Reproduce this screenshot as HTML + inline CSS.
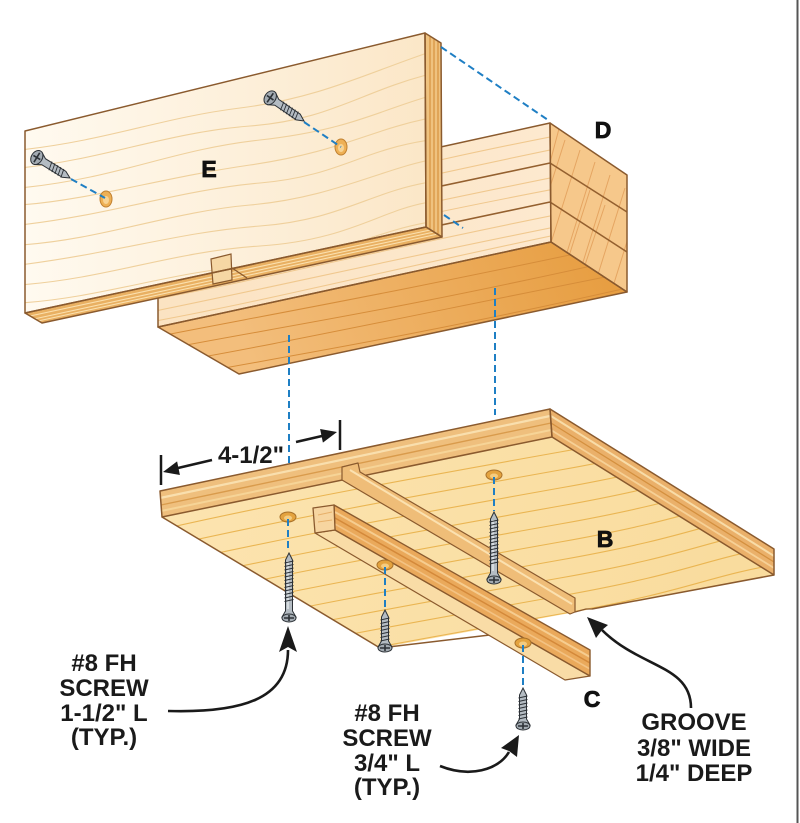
<!DOCTYPE html>
<html><head><meta charset="utf-8"><style>html,body{margin:0;padding:0;background:#fff;}svg{display:block;}</style></head>
<body>
<svg width="800" height="823" viewBox="0 0 800 823" xmlns="http://www.w3.org/2000/svg">
<defs>
<linearGradient id="gE" x1="25" y1="0" x2="440" y2="0" gradientUnits="userSpaceOnUse"><stop offset="0" stop-color="#fffaf0"/><stop offset="1" stop-color="#fbe6c6"/></linearGradient>
<linearGradient id="gDf" x1="150" y1="0" x2="550" y2="0" gradientUnits="userSpaceOnUse"><stop offset="0" stop-color="#fbe3c2"/><stop offset="1" stop-color="#fde9cf"/></linearGradient>
<linearGradient id="gDb" x1="600" y1="260" x2="260" y2="390" gradientUnits="userSpaceOnUse"><stop offset="0" stop-color="#e79e42"/><stop offset="1" stop-color="#f3be7c"/></linearGradient>
<linearGradient id="gB" x1="160" y1="480" x2="700" y2="640" gradientUnits="userSpaceOnUse"><stop offset="0" stop-color="#fce4b0"/><stop offset="1" stop-color="#f9dc9e"/></linearGradient>
<clipPath id="cE"><polygon points="25,131 425,33 426,227 25,313"/></clipPath>
<clipPath id="cDf"><polygon points="158,209 550,123 551,242 158,327"/></clipPath>
<clipPath id="cDe"><polygon points="550,123 627,175 627,292 551,242"/></clipPath>
<clipPath id="cDb"><polygon points="158,327 551,242 627,292 239,374"/></clipPath>
<clipPath id="cB"><polygon points="162,517 552,437 774,575 592,609 380,648"/></clipPath>
</defs>

<!-- right border -->
<rect x="796.5" y="0" width="2" height="823" fill="#555"/>

<!-- ===== D block ===== -->
<polygon points="158,209 550,123 551,242 158,327" fill="url(#gDf)"/>
<g clip-path="url(#cDf)" fill="none" stroke="#f0c88e" stroke-width="1.1">
<path d="M150,222 C260,205 380,170 560,135"/>
<path d="M150,236 C260,215 380,185 560,148"/>
<path d="M150,262 C260,240 380,212 560,176"/>
<path d="M150,272 C260,252 380,222 560,188"/>
<path d="M150,300 C260,280 380,250 560,214"/>
<path d="M150,312 C260,290 380,262 560,226"/>
<path d="M150,322 C260,302 380,272 560,234"/>
</g>
<path d="M158,246 L550,163 M158,285 L550,202" stroke="#94602f" stroke-width="1.6" fill="none"/>
<polygon points="550,123 627,175 627,292 551,242" fill="#f6c88b"/>
<g clip-path="url(#cDe)" stroke="#e5a562" stroke-width="1" fill="none">
<path d="M530,250 L565,140 M545,262 L580,150 M560,275 L595,162 M575,288 L610,175 M590,300 L625,188 M605,312 L640,200 M540,200 L560,125 M555,300 L590,190 M570,310 L605,205"/>
</g>
<path d="M550,163 L627,212 M550,202 L627,252" stroke="#94602f" stroke-width="1.6" fill="none"/>
<polygon points="158,327 551,242 627,292 239,374" fill="url(#gDb)"/>
<g clip-path="url(#cDb)" fill="none" stroke="#d68d3a" stroke-width="1">
<path d="M150,338 C250,318 380,296 640,240"/>
<path d="M150,352 C260,330 390,312 640,255"/>
<path d="M150,366 C250,350 380,322 640,270"/>
<path d="M150,382 C260,360 390,342 640,285"/>
<path d="M150,398 C250,378 380,358 640,300"/>
<path d="M150,414 C260,392 390,374 640,315"/>
</g>
<g fill="none" stroke="#8a5a2e" stroke-width="1.5" stroke-linejoin="round">
<polygon points="158,209 550,123 551,242 158,327"/>
<polygon points="550,123 627,175 627,292 551,242"/>
<polygon points="158,327 551,242 627,292 239,374"/>
</g>

<!-- ===== E panel ===== -->
<polygon points="25,131 425,33 426,227 25,313" fill="url(#gE)"/>
<g clip-path="url(#cE)" fill="none" stroke="#efd09c" stroke-width="1.1">
<path d="M20,150 C110,140 160,118 240,108 S370,72 430,52"/>
<path d="M20,168 C100,160 170,132 250,126 S360,92 430,74"/>
<path d="M20,188 C120,178 170,150 260,140 S380,110 430,96"/>
<path d="M20,205 C90,200 160,178 250,165 S370,130 430,118"/>
<path d="M20,225 C110,215 180,190 260,183 S360,150 430,140"/>
<path d="M20,245 C100,240 170,212 250,205 S380,170 430,160"/>
<path d="M20,265 C120,252 180,232 260,226 S370,192 430,182"/>
<path d="M20,285 C110,278 170,252 260,246 S380,210 430,202"/>
<path d="M20,303 C100,298 170,272 250,266 S370,232 430,222"/>
<path d="M20,322 C110,315 180,292 260,286 S380,252 430,244"/>
</g>
<polygon points="425,33 441,43 442,237 426,227" fill="#efc27f"/>
<path d="M430,37 L430,230 M434,39 L434,232 M438,41 L438,234" stroke="#d5923f" stroke-width="1.2"/>
<polygon points="25,313 426,227 442,237 42,323" fill="#e9b062"/>
<path d="M30,316 L430,230 M34,319 L434,232 M38,321 L438,234" stroke="#fbe0ae" stroke-width="1.1"/>
<!-- notch tab -->
<polygon points="211,259 231,254 232,280 213,284" fill="#f6d7a4" stroke="#8a5a2e" stroke-width="1.2"/>
<path d="M232,268 L247,278" stroke="#8a5a2e" stroke-width="1.2"/>
<g fill="none" stroke="#8a5a2e" stroke-width="1.5" stroke-linejoin="round">
<polygon points="25,131 425,33 426,227 25,313"/>
<polygon points="425,33 441,43 442,237 426,227"/>
<polygon points="25,313 426,227 442,237 42,323"/>
</g>

<!-- E holes -->
<ellipse cx="106" cy="199" rx="6" ry="8" fill="#eeb055" stroke="#c08030"/>
<ellipse cx="106" cy="200" rx="3" ry="4" fill="#f8d393"/>
<ellipse cx="341" cy="147" rx="6" ry="8" fill="#eeb055" stroke="#c08030"/>
<ellipse cx="341" cy="148" rx="3" ry="4" fill="#f8d393"/>

<!-- ===== B board ===== -->
<polygon points="162,517 552,437 774,575 592,609 380,648" fill="url(#gB)"/>
<g clip-path="url(#cB)" fill="none" stroke="#eab552" stroke-width="1.1">
<path d="M150,532 C280,502 420,477 560,452 S700,415 790,400"/>
<path d="M150,550 C280,520 420,495 560,470 S700,433 790,418"/>
<path d="M150,568 C280,538 420,513 560,488 S700,451 790,436"/>
<path d="M150,586 C280,556 420,531 560,506 S700,469 790,454"/>
<path d="M150,604 C280,574 420,549 560,524 S700,487 790,472"/>
<path d="M150,622 C280,592 420,567 560,542 S700,505 790,490"/>
<path d="M150,640 C280,610 420,585 560,560 S700,523 790,508"/>
<path d="M150,658 C280,628 420,603 560,578 S700,541 790,526"/>
<path d="M150,676 C280,646 420,621 560,596 S700,559 790,544"/>
<path d="M150,694 C280,664 420,639 560,614 S700,577 790,562"/>
<path d="M150,712 C280,682 420,657 560,632 S700,595 790,580"/>
</g>
<polygon points="160,491 550,409 552,437 162,517" fill="#efbf7d"/>
<path d="M160,498 L550,416" stroke="#f9dfae" stroke-width="2.2"/>
<path d="M161,505 L551,423" stroke="#d99b4c" stroke-width="1.4"/>
<path d="M161,511 L551,430" stroke="#f6d497" stroke-width="2"/>
<polygon points="550,409 774,549 774,575 552,437" fill="#eab06a"/>
<path d="M551,416 L774,556" stroke="#f8dca8" stroke-width="2"/>
<path d="M551,423 L774,562" stroke="#d4903f" stroke-width="1.3"/>
<path d="M551,430 L774,568" stroke="#f6d096" stroke-width="1.8"/>
<g fill="none" stroke="#8a5a2e" stroke-width="1.5" stroke-linejoin="round">
<polygon points="160,491 550,409 552,437 162,517"/>
<polygon points="550,409 774,549 774,575 552,437"/>
<path d="M162,517 L380,648 M774,575 L592,609"/>
</g>
<!-- groove rail -->
<polygon points="342,467 358,463 360,472 575,598 575,612 570,614 342,480" fill="#efbd78" stroke="#8a5a2e" stroke-width="1.2" stroke-linejoin="round"/>
<path d="M350,470 L572,604" stroke="#fbe1b0" stroke-width="2"/>
<path d="M575,612 L586,609 L592,609" fill="none" stroke="#8a5a2e" stroke-width="1.2"/>
<path d="M380,648 L515,632" stroke="#8a5a2e" stroke-width="1.5"/>
<path d="M357,547 L510,635" stroke="#eab552" stroke-width="1"/>

<!-- B holes -->
<g stroke="#a9722a" stroke-width="1">
<ellipse cx="288" cy="517" rx="8" ry="5" fill="#e4a33f"/>
<ellipse cx="494" cy="475" rx="8" ry="5" fill="#e4a33f"/>
</g>
<ellipse cx="288" cy="518" rx="4" ry="2.5" fill="#f4cc80"/>
<ellipse cx="494" cy="476" rx="4" ry="2.5" fill="#f4cc80"/>

<!-- ===== C cleat ===== -->
<polygon points="315,533 335,530 590,676 565,680" fill="#f9dca6" stroke="#8a5a2e" stroke-width="1.2" stroke-linejoin="round"/>
<polygon points="334,505 590,650 590,676 335,530" fill="#eaa95b"/>
<path d="M335,512 L590,657" stroke="#f6cd90" stroke-width="2"/>
<path d="M335,518 L590,663" stroke="#d4893a" stroke-width="1.5"/>
<path d="M335,524 L590,669" stroke="#f3c283" stroke-width="1.6"/>
<polygon points="334,505 590,650 590,676 335,530" fill="none" stroke="#8a5a2e" stroke-width="1.4" stroke-linejoin="round"/>
<polygon points="313,508 334,505 335,530 315,533" fill="#f7d5a0" stroke="#8a5a2e" stroke-width="1.3" stroke-linejoin="round"/>
<path d="M318,515 L332,512 M318,522 L332,520" stroke="#e7b06a" stroke-width="1"/>
<g stroke="#a9722a" stroke-width="1">
<ellipse cx="385" cy="565" rx="8" ry="5" fill="#e4a33f"/>
<ellipse cx="523" cy="643" rx="8" ry="5" fill="#e4a33f"/>
</g>
<ellipse cx="385" cy="566" rx="4" ry="2.5" fill="#f4cc80"/>
<ellipse cx="523" cy="644" rx="4" ry="2.5" fill="#f4cc80"/>

<!-- ===== dashed lines ===== -->
<g stroke="#1f7fc4" stroke-width="2" stroke-dasharray="7 4" fill="none">
<path d="M441,47 L548,120"/>
<path d="M444,215 L463,228"/>
<path d="M289,335 L289,463"/>
<path d="M495,288 L495,415"/>
<path d="M71,179 L105,198"/>
<path d="M304,122 L341,147"/>
<path d="M288,519 L288,552"/>
<path d="M385,567 L385,609"/>
<path d="M494,477 L494,511"/>
<path d="M523,645 L523,687"/>
</g>

<!-- ===== screws ===== -->
<g transform="translate(289,553)">
<path d="M0,0 L3.5,7 L3.5,58 L7,64 L-7,64 L-3.5,58 L-3.5,7 Z" fill="#b4bcc3" stroke="#2c3136"/>
<path d="M-1,8 L-1,56" stroke="#eef1f3" stroke-width="1.2"/>
<path d="M-4.5,10 L4.5,8 M-4.5,13.5 L4.5,11.5 M-4.5,17 L4.5,15 M-4.5,20.5 L4.5,18.5 M-4.5,24 L4.5,22 M-4.5,27.5 L4.5,25.5 M-4.5,31 L4.5,29 M-4.5,34.5 L4.5,32.5 M-4.5,38 L4.5,36 M-4.5,41.5 L4.5,39.5 M-4.5,45 L4.5,43 M-4.5,48.5 L4.5,46.5" stroke="#2c3136" stroke-width="0.9"/>
<ellipse cx="0" cy="65" rx="7" ry="4" fill="#a3abb2" stroke="#2c3136"/>
<path d="M-5,65 L5,65 M0,62 L0,68" stroke="#2c3136" stroke-width="1.6"/>
</g>
<g transform="translate(494,512)">
<path d="M0,0 L3.5,7 L3.5,61 L7,67 L-7,67 L-3.5,61 L-3.5,7 Z" fill="#b4bcc3" stroke="#2c3136"/>
<path d="M-1,8 L-1,59" stroke="#eef1f3" stroke-width="1.2"/>
<path d="M-4.5,10 L4.5,8 M-4.5,13.5 L4.5,11.5 M-4.5,17 L4.5,15 M-4.5,20.5 L4.5,18.5 M-4.5,24 L4.5,22 M-4.5,27.5 L4.5,25.5 M-4.5,31 L4.5,29 M-4.5,34.5 L4.5,32.5 M-4.5,38 L4.5,36 M-4.5,41.5 L4.5,39.5 M-4.5,45 L4.5,43 M-4.5,48.5 L4.5,46.5 M-4.5,52 L4.5,50" stroke="#2c3136" stroke-width="0.9"/>
<ellipse cx="0" cy="68" rx="7" ry="4" fill="#a3abb2" stroke="#2c3136"/>
<path d="M-5,68 L5,68 M0,65 L0,71" stroke="#2c3136" stroke-width="1.6"/>
</g>
<g transform="translate(385,610)">
<path d="M0,0 L3.5,7 L3.5,31 L7,37 L-7,37 L-3.5,31 L-3.5,7 Z" fill="#b4bcc3" stroke="#2c3136"/>
<path d="M-4.5,10 L4.5,8 M-4.5,13.5 L4.5,11.5 M-4.5,17 L4.5,15 M-4.5,20.5 L4.5,18.5 M-4.5,24 L4.5,22 M-4.5,27.5 L4.5,25.5 M-4.5,31 L4.5,29" stroke="#2c3136" stroke-width="0.9"/>
<ellipse cx="0" cy="38" rx="7" ry="4" fill="#a3abb2" stroke="#2c3136"/>
<path d="M-5,38 L5,38 M0,35 L0,41" stroke="#2c3136" stroke-width="1.6"/>
</g>
<g transform="translate(523,688)">
<path d="M0,0 L3.5,7 L3.5,31 L7,37 L-7,37 L-3.5,31 L-3.5,7 Z" fill="#b4bcc3" stroke="#2c3136"/>
<path d="M-4.5,10 L4.5,8 M-4.5,13.5 L4.5,11.5 M-4.5,17 L4.5,15 M-4.5,20.5 L4.5,18.5 M-4.5,24 L4.5,22 M-4.5,27.5 L4.5,25.5 M-4.5,31 L4.5,29" stroke="#2c3136" stroke-width="0.9"/>
<ellipse cx="0" cy="38" rx="7" ry="4" fill="#a3abb2" stroke="#2c3136"/>
<path d="M-5,38 L5,38 M0,35 L0,41" stroke="#2c3136" stroke-width="1.6"/>
</g>
<g transform="translate(70,178) rotate(121.7)">
<path d="M0,0 L3.5,7 L3.5,31 L7,37 L-7,37 L-3.5,31 L-3.5,7 Z" fill="#b4bcc3" stroke="#2c3136"/>
<path d="M-4.5,10 L4.5,8 M-4.5,13.5 L4.5,11.5 M-4.5,17 L4.5,15 M-4.5,20.5 L4.5,18.5 M-4.5,24 L4.5,22" stroke="#2c3136" stroke-width="0.9"/>
<ellipse cx="0" cy="39" rx="7.5" ry="5.5" fill="#a3abb2" stroke="#2c3136"/>
<path d="M-5.5,39 L5.5,39 M0,35 L0,43" stroke="#2c3136" stroke-width="1.6"/>
</g>
<g transform="translate(304,121) rotate(124.5)">
<path d="M0,0 L3.5,7 L3.5,33 L7,39 L-7,39 L-3.5,33 L-3.5,7 Z" fill="#b4bcc3" stroke="#2c3136"/>
<path d="M-4.5,10 L4.5,8 M-4.5,13.5 L4.5,11.5 M-4.5,17 L4.5,15 M-4.5,20.5 L4.5,18.5 M-4.5,24 L4.5,22 M-4.5,27.5 L4.5,25.5" stroke="#2c3136" stroke-width="0.9"/>
<ellipse cx="0" cy="41" rx="7.5" ry="5.5" fill="#a3abb2" stroke="#2c3136"/>
<path d="M-5.5,41 L5.5,41 M0,37 L0,45" stroke="#2c3136" stroke-width="1.6"/>
</g>

<!-- ===== dimension ===== -->
<g stroke="#1a1a1a" stroke-width="2.5" fill="none">
<path d="M161,455 L161,485"/>
<path d="M340,420 L340,450"/>
<path d="M212,460 L178,468"/>
<path d="M296,442 L322,436"/>
</g>
<polygon points="163,472 179.9,475 177.1,461.4" fill="#1a1a1a"/>
<polygon points="337,432 322.9,442.6 320.1,429" fill="#1a1a1a"/>

<!-- ===== leader arrows ===== -->
<g stroke="#1a1a1a" stroke-width="2.6" fill="none">
<path d="M168,711 C240,713 288,700 288,650"/>
<path d="M440,766 C470,778 498,770 509,752"/>
<path d="M691,708 C691,665 640,668 602,630"/>
</g>
<polygon points="288,626 279,652 288,647 297,652" fill="#1a1a1a"/>
<polygon points="519,735 517,757 509,751 501,748" fill="#1a1a1a"/>
<polygon points="587,617 608,625 602,630 596,638" fill="#1a1a1a"/>

<!-- ===== text ===== -->
<g font-family="'Liberation Sans', Arial, sans-serif" font-weight="bold" fill="#1a1a1a" text-anchor="middle">
<text x="251" y="463" font-size="24">4-1/2"</text>
<g font-size="24">
<text x="104" y="671">#8 FH</text>
<text x="104" y="696">SCREW</text>
<text x="104" y="721">1-1/2" L</text>
<text x="104" y="745">(TYP.)</text>
<text x="387" y="721">#8 FH</text>
<text x="387" y="746">SCREW</text>
<text x="387" y="771">3/4" L</text>
<text x="387" y="795">(TYP.)</text>
<text x="694" y="730">GROOVE</text>
<text x="694" y="756">3/8" WIDE</text>
<text x="694" y="781">1/4" DEEP</text>
</g>
<g font-size="23" stroke="#111" stroke-width="0.8" fill="#111">
<text x="209" y="177">E</text>
<text x="603" y="138">D</text>
<text x="605" y="547">B</text>
<text x="592" y="707">C</text>
</g>
</g>
</svg>
</body></html>
